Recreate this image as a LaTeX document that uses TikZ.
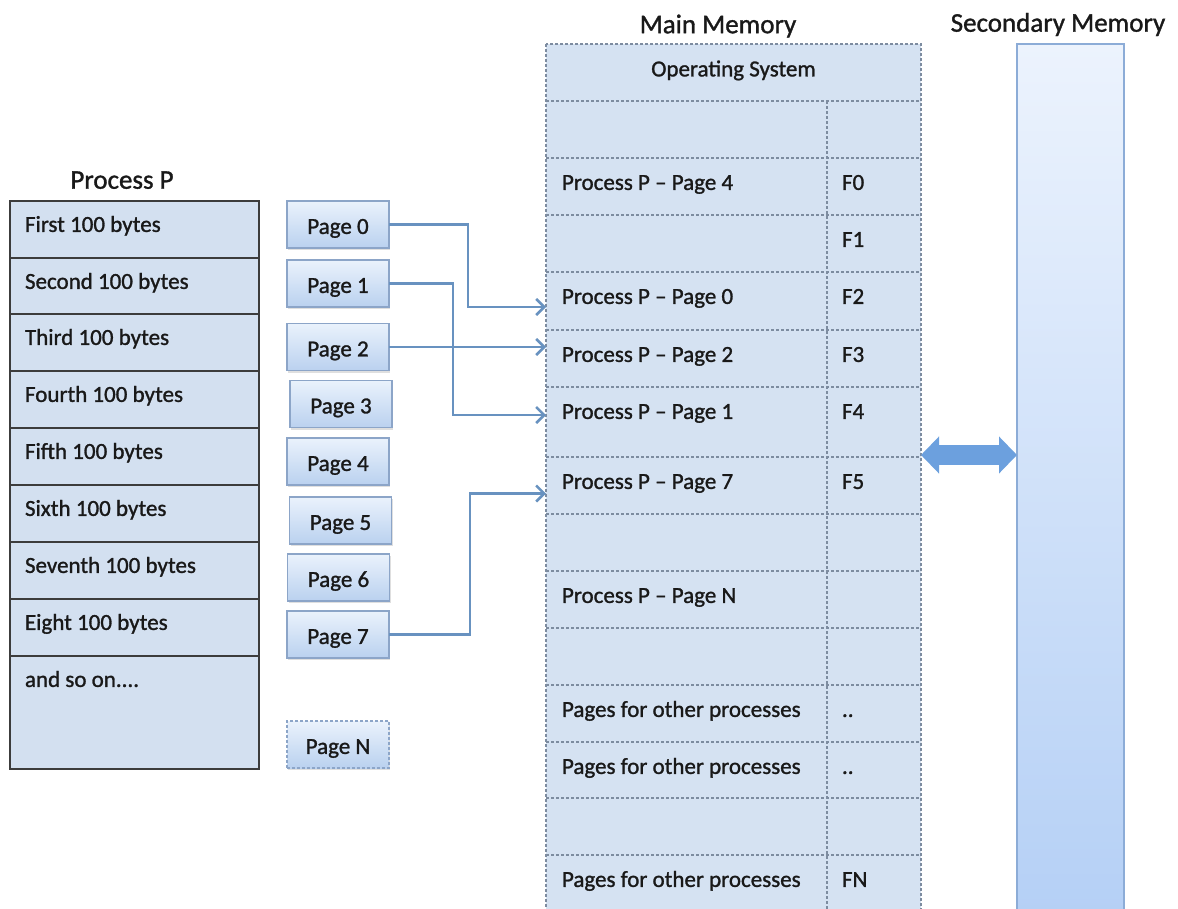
\documentclass[tikz,border=0pt]{standalone}
\usepackage{fontspec}
\setmainfont{Carlito}
\newfontfamily\heavyfam{Carlito}[FakeBold=1.2]
\usetikzlibrary{arrows.meta,shadows,calc}
\definecolor{txtc}{RGB}{25,25,25}
\definecolor{procfill}{RGB}{211,224,240}
\definecolor{procline}{RGB}{60,60,60}
\definecolor{memfill}{RGB}{213,226,242}
\definecolor{memline}{RGB}{125,140,160}
\definecolor{pgtop}{RGB}{234,242,252}
\definecolor{pgbot}{RGB}{186,209,239}
\definecolor{pgline}{RGB}{140,165,200}
\definecolor{arrowc}{RGB}{104,146,192}
\definecolor{smtop}{RGB}{236,243,253}
\definecolor{smbot}{RGB}{178,206,245}
\definecolor{smline}{RGB}{140,172,215}
\definecolor{dblc}{RGB}{108,160,222}
\newcommand{\bodyfont}{\heavyfam\fontsize{23}{27}\selectfont}
\newcommand{\titlefont}{\heavyfam\fontsize{27}{32}\selectfont}
\begin{document}
\begin{tikzpicture}[x=1pt,y=-1pt,
  every node/.style={inner sep=0pt, outer sep=0pt, text=txtc},
  lbl/.style={font=\bodyfont, text height=14.8pt, text depth=0pt, anchor=west},
  ttl/.style={font=\titlefont, text height=17.4pt, text depth=0pt},
  prow/.style={draw=procline, line width=2pt, fill=procfill, minimum width=249pt, anchor=north west},
  pagebox/.style={draw=pgline, line width=1.2pt, top color=pgtop, bottom color=pgbot, minimum width=102pt, minimum height=47pt, font=\bodyfont, text height=18.8pt, text depth=0pt, drop shadow={shadow xshift=1pt, shadow yshift=-2pt, opacity=0.25}},
  cell/.style={anchor=north west},
  mmline/.style={draw=memline, line width=1.2pt, dash pattern=on 3pt off 2pt},
  link/.style={draw=arrowc, line width=2.5pt, -{Straight Barb[length=8pt,width=16pt]}},
  dbl/.style={draw=dblc, line width=20pt, {Triangle[length=18pt,width=36pt]}-{Triangle[length=18pt,width=36pt]}}
]
\useasboundingbox (0,0) rectangle (1178,908);
\clip (0,0) rectangle (1178,908);
\fill[white] (0,0) rectangle (1178,908);

% Titles
\node[ttl] (tproc) at (122,180) {Process P};
\node[ttl] (tmain) at (718,24.5) {Main Memory};
\node[ttl] (tsec) at (1058,23) {Secondary Memory};

% Process P table
\foreach \n/\t/\b/\s in {1/201/258/First 100 bytes, 2/258/314/Second 100 bytes, 3/314/371/Third 100 bytes, 4/371/428/Fourth 100 bytes, 5/428/485/Fifth 100 bytes, 6/485/542/Sixth 100 bytes, 7/542/599/Seventh 100 bytes, 8/599/656/Eight 100 bytes} {
  \node[prow, minimum height={(\b-\t)*1pt}] (row\n) at (10,\t) {};
  \node[lbl] (rowt\n) at ([xshift=15pt,yshift=-23.5pt]row\n.north west) {\s};
}
\node[prow, minimum height=113pt] (row9) at (10,656) {};
\node[lbl] (rowt9) at ([xshift=15pt,yshift=-23.5pt]row9.north west) {and so on....};

% Page boxes
\node[pagebox] (p0) at (338,224.5) {Page 0};
\node[pagebox] (p1) at (338,283.5) {Page 1};
\node[pagebox] (p2) at (338,347) {Page 2};
\node[pagebox] (p3) at (341,404) {Page 3};
\node[pagebox] (p4) at (338,461.5) {Page 4};
\node[pagebox] (p5) at (340.5,520.5) {Page 5};
\node[pagebox] (p6) at (338.5,577.5) {Page 6};
\node[pagebox] (p7) at (338,634.5) {Page 7};
\node[pagebox, dash pattern=on 3pt off 2pt] (pN) at (338,744.5) {Page N};

% Main memory
\node[fill=memfill, minimum width=375pt, minimum height=876pt, anchor=north west] (mm) at (546,44) {};
\node[cell, minimum width=375pt, minimum height=57pt] (os) at (546,44) {};
\foreach \n/\t/\b in {1/101/158, 2/158/215, 3/215/272, 4/272/330, 5/330/387, 6/387/457, 7/457/514, 8/514/571, 9/571/628, 10/628/685, 11/685/742, 12/742/798, 13/798/855, 14/855/920} {
  \node[cell, minimum width=281pt, minimum height={(\b-\t)*1pt}] (L\n) at (546,\t) {};
  \node[cell, minimum width=94pt, minimum height={(\b-\t)*1pt}] (R\n) at (827,\t) {};
}
\draw[mmline] (mm.north west) rectangle (mm.south east);
\foreach \n in {1,2,3,4,5,6,7,8,9,10,11,12,13,14} \draw[mmline] (L\n.north west) -- (R\n.north east);
\draw[mmline] (L1.north east) -- (L14.south east);

\node[lbl, anchor=center] (ost) at ([yshift=-25pt]os.north) {Operating System};
\foreach \n/\s in {2/Process P – Page 4, 4/Process P – Page 0, 5/Process P – Page 2, 6/Process P – Page 1, 7/Process P – Page 7, 9/Process P – Page N, 11/Pages for other processes, 12/Pages for other processes, 14/Pages for other processes} {
  \node[lbl] (Lt\n) at ([xshift=16pt,yshift=-24.5pt]L\n.north west) {\s};
}
\foreach \n/\s in {2/F0, 3/F1, 4/F2, 5/F3, 6/F4, 7/F5, 14/FN} {
  \node[lbl] (Rt\n) at ([xshift=15pt,yshift=-24.5pt]R\n.north west) {\s};
}
\node[lbl] (Rt11) at ([xshift=15pt,yshift=-24.5pt]R11.north west) {..};
\node[lbl] (Rt12) at ([xshift=15pt,yshift=-24.5pt]R12.north west) {..};

% Secondary memory
\node[draw=smline, line width=1.5pt, top color=smtop, bottom color=smbot, minimum width=107pt, minimum height=916pt, anchor=north west] (sm) at (1017,44) {};

% Links
\draw[link] (p0.east) -- ++(79,0) |- ([yshift=-6pt]L4.west);
\draw[link] (p1.east) -- ++(64,0) |- ([yshift=7pt]L6.west);
\draw[link] (p2.east) -- (L5.west |- p2.east);
\draw[link] (p7.east) -- ++(81,0) |- ([yshift=-8pt]L7.west);

% Swap arrow
\coordinate (dy) at (0,455);
\draw[dbl] (mm.east |- dy) -- (sm.west |- dy);
\end{tikzpicture}
\end{document}
